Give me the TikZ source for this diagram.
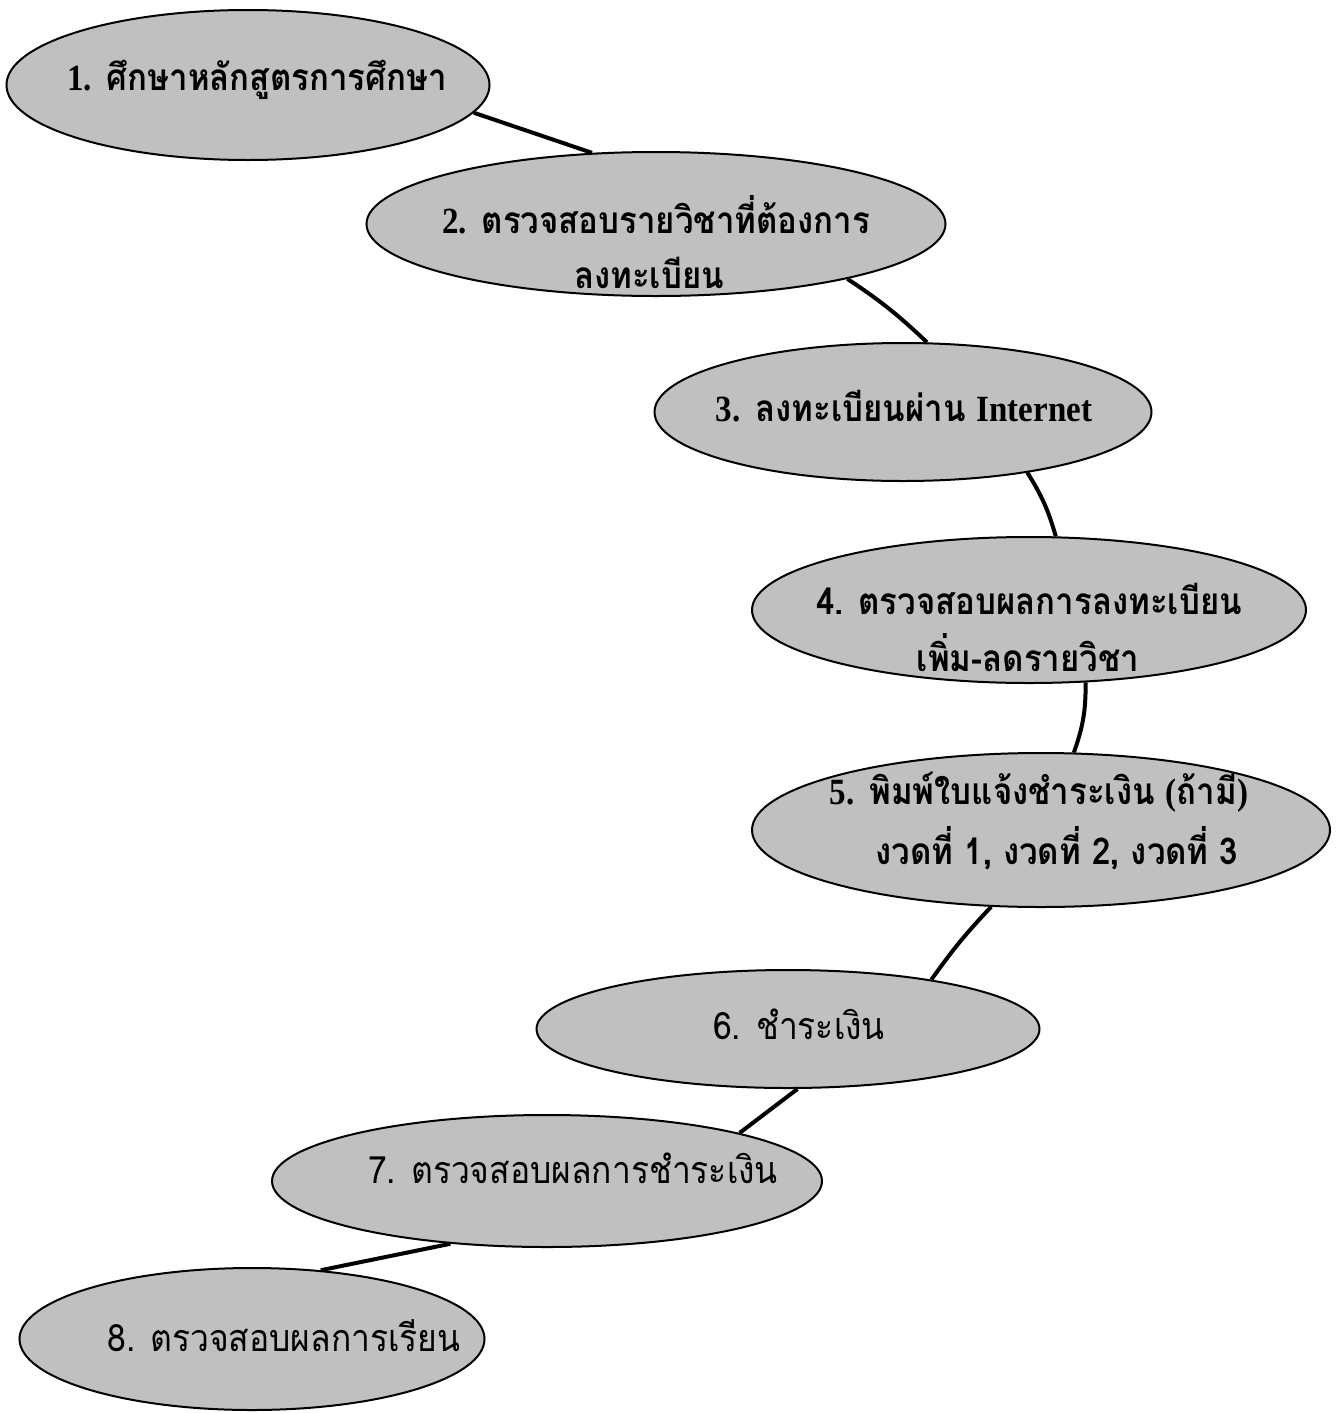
\documentclass[tikz,border=0pt]{standalone}
\usepackage{fontspec}
\setmainfont{Liberation Serif}
\newfontfamily\thai[Script=Thai]{Loma}
\newfontfamily\rom{Liberation Serif}
\usetikzlibrary{shapes.geometric}
\definecolor{ovalgray}{RGB}{192,192,192}
\newcommand{\tallbox}[1]{\scalebox{1}[1.12]{#1}}
\tikzset{
  oval/.style={ellipse, draw=black, line width=1pt, fill=ovalgray, inner sep=0pt},
  link/.style={line width=2pt, draw=black},
  boldlbl/.style={anchor=base, inner sep=0pt, font=\thai\bfseries\fontsize{16.5}{20}\selectfont},
  plainlbl/.style={anchor=base, inner sep=0pt, font=\thai\fontsize{16.8}{20}\selectfont}
}
\begin{document}
\begin{tikzpicture}[x=0.5pt,y=-0.5pt]
\useasboundingbox (0,0) rectangle (1339,1414);
% ovals
\node[oval, minimum width=241.5pt, minimum height=75pt] (n1) at (248,85) {};
\node[oval, minimum width=289.5pt, minimum height=72pt] (n2) at (656,224) {};
\node[oval, minimum width=248.5pt, minimum height=69pt] (n3) at (903,412) {};
\node[oval, minimum width=277pt, minimum height=73pt] (n4) at (1029,610) {};
\node[oval, minimum width=289pt, minimum height=77pt] (n5) at (1041,830) {};
\node[oval, minimum width=251.5pt, minimum height=59pt] (n6) at (788,1029) {};
\node[oval, minimum width=275pt, minimum height=66pt] (n7) at (547,1181) {};
\node[oval, minimum width=232.5pt, minimum height=71pt] (n8) at (252,1339) {};
% connectors
\draw[link] (n1.-7.2) -- (n2.132);
\draw[link] (n2.-16.1) to[bend left=5] (n3.71.1);
\draw[link] (n3.-26.6) to[bend left=8] (n4.70.4);
\draw[link] (n4.-52.7) to[bend left=10] (n5.67.4);
\draw[link] (n5.-123.9) to[bend right=4] (n6.19.7);
\draw[link] (n6.-81.6) -- (n7.14.3);
\draw[link] (n7.-147.9) -- (n8.45.9);
% labels
\node[boldlbl] (t1) at (257,90) {\tallbox{{\rom\bfseries 1.} ศึกษาหลักสูตรการศึกษา}};
\node[boldlbl] (t2a) at (656,233) {\tallbox{{\rom\bfseries 2.} ตรวจสอบรายวิชาที่ต้องการ}};
\node[boldlbl] (t2b) at (649,288) {\tallbox{ลงทะเบียน}};
\node[boldlbl] (t3) at (904,421) {\tallbox{{\rom\bfseries 3.} ลงทะเบียนผ่าน {\rom\bfseries Internet}}};
\node[boldlbl] (t4a) at (1029,614) {\tallbox{4. ตรวจสอบผลการลงทะเบียน}};
\node[boldlbl] (t4b) at (1028,671) {\tallbox{เพิ่ม-ลดรายวิชา}};
\node[boldlbl] (t5a) at (1039,804) {\tallbox{{\rom\bfseries 5.} พิมพ์ใบแจ้งชำระเงิน {\rom\bfseries (}ถ้ามี{\rom\bfseries )}}};
\node[boldlbl] (t5b) at (1057,864) {\tallbox{งวดที่ 1, งวดที่ 2, งวดที่ 3}};
\node[plainlbl] (t6) at (799,1039) {\tallbox{6. ชำระเงิน}};
\node[plainlbl] (t7) at (573,1183) {\tallbox{7. ตรวจสอบผลการชำระเงิน}};
\node[plainlbl] (t8) at (284,1351) {\tallbox{8. ตรวจสอบผลการเรียน}};
\end{tikzpicture}
\end{document}
